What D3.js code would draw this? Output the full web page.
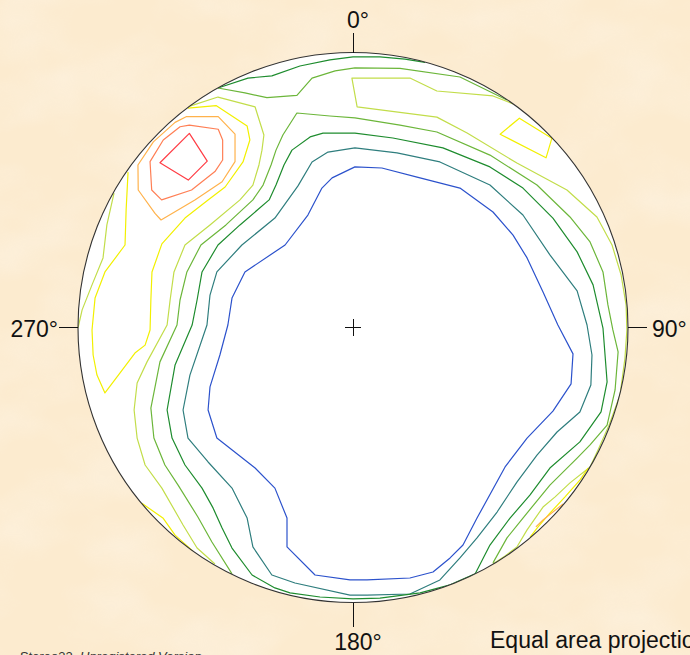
<!DOCTYPE html>
<html>
<head>
<meta charset="utf-8">
<script src="https://cdn.jsdelivr.net/npm/d3@7"></script>
<style>
  body { margin: 0; background: #fcebcf; overflow: hidden; }
  text { font-family: "Liberation Sans", Arial, sans-serif; fill: #111; }
</style>
</head>
<body>
<div id="stereonet"></div>
<script>
var blueLine = [[0.7,58.4],[10.5,58.0],[23.3,54.7],[38.9,50.7],[50.9,42.0],[58.2,33.6],[63.3,25.3],[69.1,12.9],[74.5,0.9],[80.0,-9.6],[79.3,-20.5],[72.7,-30.4],[63.3,-40.2],[55.3,-50.7],[45.1,-69.3],[40.0,-79.1],[35.3,-83.8],[29.1,-88.9],[20.7,-91.1],[5.1,-91.8],[-1.1,-91.8],[-13.8,-90.0],[-24.0,-79.8],[-24.0,-69.3],[-28.4,-58.4],[-35.6,-51.1],[-49.5,-40.2],[-52.7,-30.0],[-52.0,-21.6],[-48.4,-10.0],[-45.5,0.9],[-44.0,10.7],[-39.3,20.2],[-24.7,30.0],[-16.4,40.9],[-11.3,50.7],[-7.6,54.4]];
var tealLine = [[0.7,65.3],[16.0,63.5],[31.6,60.2],[49.8,51.8],[61.8,40.9],[71.6,26.4],[81.5,13.3],[85.1,0.9],[86.9,-10.0],[86.5,-20.9],[82.5,-30.7],[74.2,-38.0],[66.9,-46.4],[59.6,-56.2],[52.4,-67.1],[45.1,-76.5],[38.9,-83.8],[31.6,-91.8],[20.7,-96.9],[5.1,-97.3],[-1.1,-97.3],[-21.1,-92.9],[-29.5,-90.0],[-36.4,-79.8],[-38.5,-69.3],[-44.0,-58.4],[-52.7,-48.9],[-60.0,-40.2],[-61.8,-30.0],[-59.3,-17.3],[-53.1,0.9],[-52.0,11.8],[-49.5,20.2],[-40.4,30.0],[-28.4,39.8],[-20.0,51.5],[-14.9,60.2],[-9.1,63.8]];
var darkGreenLine = [[0.7,70.7],[14.5,68.9],[32.7,65.3],[49.8,58.4],[61.8,50.7],[72.7,39.8],[81.5,27.5],[87.3,15.5],[90.9,-0.2],[92.4,-19.8],[90.2,-30.7],[82.5,-41.6],[71.6,-51.1],[64.4,-60.9],[57.1,-69.3],[49.8,-79.1],[44.4,-89.6],[35.3,-93.6],[24.4,-96.5],[9.8,-98.4],[0,-98.7],[-12.0,-98.0],[-22.9,-96.5],[-28.4,-94.7],[-36.7,-90.0],[-44.0,-80.2],[-47.6,-72.9],[-50.9,-65.6],[-54.9,-58.4],[-61.1,-50.0],[-65.8,-40.2],[-67.6,-30.0],[-64.7,-13.6],[-58.5,0.9],[-56.7,10.0],[-54.9,20.2],[-49.1,30.0],[-41.1,37.3],[-30.5,46.4],[-28.0,51.8],[-25.1,59.1],[-22.2,64.5],[-15.6,69.3],[-10.9,70.7]];
var darkGreenRim = [[-49.1,87.1],[-38.2,90.7],[-29.5,91.5],[-19.3,95.1],[-8.4,97.3],[0,98.4],[9.8,98.4],[18.9,97.6],[26.2,96.4]];
var greenRim = [[-49.1,87.1],[-39.3,85.3],[-31.3,83.6],[-20.4,84.4],[-14.9,90.7],[-6.5,93.3],[0.7,94.4],[17.1,94.2],[38.9,91.1],[56.0,82.7]];
var greenLine = [[-44.0,-89.6],[-51.3,-78.0],[-56.4,-68.9],[-63.6,-57.3],[-68.4,-50.0],[-72.4,-40.2],[-73.5,-29.3],[-70.2,-12.5],[-64.0,0.9],[-62.9,10.0],[-60.4,20.2],[-55.3,30.0],[-46.2,37.3],[-36.4,46.4],[-32.7,51.8],[-29.8,59.1],[-28.0,64.5],[-25.5,70.0],[-20.4,78.0],[-8.4,76.9],[0.7,76.2],[17.1,73.6],[30.5,71.1],[49.8,62.7],[66.9,51.8],[78.9,40.2],[86.2,31.1],[90.9,20.2],[92.7,8.2],[94.5,-0.9],[96.4,-8.9],[95.3,-22.7],[92.4,-35.5],[86.2,-42.7],[81.5,-47.5],[71.6,-57.3],[61.8,-69.3],[56.0,-76.5],[50.9,-85.6]];
var yellowGreenLine = [[-59.3,80.5],[-49.1,83.8],[-35.6,80.2],[-32.4,70.0],[-33.1,64.5],[-34.2,59.1],[-36.4,51.8],[-41.1,46.4],[-52.0,37.3],[-61.1,30.0],[-65.1,20.2],[-66.5,10.0],[-67.6,0.9],[-74.9,-12.5],[-78.5,-20.2],[-79.6,-30.0],[-78.5,-40.2],[-75.6,-50.0],[-69.5,-58.4],[-61.8,-71.8],[-56.7,-80.2],[-50.2,-86.0]];
var yellowGreenEast = [[58.2,81.3],[50.9,84.2],[30.5,86.0],[20.7,90.7],[-0.4,90.7],[1.5,80.2],[30.5,76.5],[41.5,70.7],[59.6,59.8],[77.8,50.0],[88.7,40.2],[94.2,30.0],[97.5,19.1],[99.3,8.2],[99.6,-0.9],[98.9,-11.1],[97.1,-24.5],[93.1,-35.5],[89.1,-44.5],[86.2,-50.7],[78.9,-56.5],[73.5,-61.6],[69.1,-65.3],[63.3,-73.6],[59.6,-79.8],[55.3,-83.1],[50.9,-86.0]];
var yellowGreenWest = [[-86.9,48.9],[-89.5,37.3],[-90.9,25.3],[-94.9,15.5],[-98.5,6.4],[-100,-0.2]];
var yellowLine = [[-60.0,79.8],[-49.8,80.7],[-38.5,73.3],[-37.5,68.2],[-40.0,60.2],[-46.5,51.1],[-52.7,46.4],[-61.1,39.8],[-69.5,30.4],[-73.1,20.2],[-73.5,10.0],[-73.8,-0.9],[-75.6,-6.4],[-79.3,-9.3],[-84.7,-16.5],[-90.2,-23.8],[-93.1,-17.3],[-94.5,-10.0],[-94.9,-0.9],[-93.8,10.7],[-90.2,20.2],[-82.9,30.0],[-82.5,42.7],[-81.8,56.5]];
var yellowPatchNE = [[53.5,70.3],[60.5,76.1],[72.3,68.8],[70.2,61.7]];
var yellowRimSW = [[-76.8,-63.9],[-69.0,-69.4],[-64.7,-75.5],[-58.2,-81.3]];
var yellowRimSE = [[85.5,-51.1],[82.5,-55.5],[77.1,-61.6],[71.6,-67.5],[67.3,-72.5],[64.4,-76.2]];
var orangeLine = [[-64.7,74.6],[-60.5,76.7],[-49.0,76.7],[-42.9,70.3],[-42.9,60.3],[-47.6,53.0],[-57.5,46.4],[-69.8,39.1],[-72.0,41.5],[-78.1,50.0],[-78.2,59.1],[-72.6,67.5]];
var orangeRimSE = [[76.4,-64.2],[72.7,-67.1],[69.1,-70.0],[66.5,-72.5]];
var coralLine = [[-59.5,73.6],[-49.0,72.1],[-47.4,68.2],[-47.4,60.9],[-50.2,56.7],[-58.7,50.0],[-69.6,46.4],[-73.2,50.0],[-73.8,60.3],[-69.0,68.2],[-62.9,73.0]];
var redLine = [[-59.5,70.6],[-53.0,60.5],[-59.9,53.6],[-70.2,59.9]];

// contour levels, lowest density first
var levels = [1, 2, 3, 4, 5, 6, 7, 8, 9];
var contours = [
    { level: 1, closed: true, points: blueLine },
    { level: 2, closed: true, points: tealLine },
    { level: 3, closed: true, points: darkGreenLine },
    { level: 3, closed: false, points: darkGreenRim },
    { level: 4, closed: false, points: greenRim },
    { level: 4, closed: false, points: greenLine },
    { level: 5, closed: false, points: yellowGreenLine },
    { level: 5, closed: false, points: yellowGreenEast },
    { level: 5, closed: false, points: yellowGreenWest },
    { level: 6, closed: false, points: yellowLine },
    { level: 6, closed: true, points: yellowPatchNE },
    { level: 6, closed: false, points: yellowRimSW },
    { level: 6, closed: false, points: yellowRimSE },
    { level: 7, closed: true, points: orangeLine },
    { level: 7, closed: false, points: orangeRimSE },
    { level: 8, closed: true, points: coralLine },
    { level: 9, closed: true, points: redLine }
];

var azimuths = [0, 90, 180, 270];
var azimuthLabels = ["0°", "90°", "180°", "270°"];

// Layout
var width = 690, height = 655;
var cx = 353, cy = 327.5, radius = 275;

var svg = d3.select("#stereonet")
    .append("svg")
    .attr("width", width)
    .attr("height", height)
    .style("display", "block");

var defs = svg.append("defs");

// faint paper texture for the background
var paper = defs.append("filter")
    .attr("id", "paper")
    .attr("x", 0).attr("y", 0)
    .attr("width", "100%").attr("height", "100%");
paper.append("feTurbulence")
    .attr("type", "fractalNoise")
    .attr("baseFrequency", "0.012 0.018")
    .attr("numOctaves", 3)
    .attr("seed", 11);
paper.append("feColorMatrix")
    .attr("type", "matrix")
    .attr("values", "0 0 0 0 1  0 0 0 0 1  0 0 0 0 1  1.3 0 0 0 -0.5");

defs.append("clipPath")
    .attr("id", "netClip")
    .append("circle")
    .attr("cx", cx)
    .attr("cy", cy)
    .attr("r", radius);

svg.append("rect")
    .attr("width", width)
    .attr("height", height)
    .attr("fill", "#fcebcf");

svg.append("rect")
    .attr("width", width)
    .attr("height", height)
    .attr("filter", "url(#paper)")
    .attr("opacity", 0.35);

// Scales
var xScale = d3.scaleLinear().domain([-100, 100]).range([cx - radius, cx + radius]);
var yScale = d3.scaleLinear().domain([-100, 100]).range([cy + radius, cy - radius]);

var levelColor = d3.scaleOrdinal()
    .domain(levels)
    .range(["#2c52cc", "#2f7e7e", "#1e8c2e", "#6cb63a", "#c2dd4a", "#f2f000", "#ffb24c", "#ff7f55", "#ff3d45"]);

// Net face
svg.append("circle")
    .attr("cx", xScale(0))
    .attr("cy", yScale(0))
    .attr("r", xScale(100) - xScale(0))
    .attr("fill", "#ffffff");

var line = d3.line()
    .x(function (d) { return xScale(d[0]); })
    .y(function (d) { return yScale(d[1]); });

var closedLine = d3.line()
    .x(function (d) { return xScale(d[0]); })
    .y(function (d) { return yScale(d[1]); })
    .curve(d3.curveLinearClosed);

svg.append("g")
    .attr("clip-path", "url(#netClip)")
    .selectAll("path")
    .data(contours)
    .enter()
    .append("path")
    .attr("d", function (d) { return d.closed ? closedLine(d.points) : line(d.points); })
    .attr("fill", "none")
    .attr("stroke", function (d) { return levelColor(d.level); })
    .attr("stroke-width", 1.2)
    .attr("stroke-linejoin", "round");

// Primitive circle
svg.append("circle")
    .attr("cx", xScale(0))
    .attr("cy", yScale(0))
    .attr("r", xScale(100) - xScale(0))
    .attr("fill", "none")
    .attr("stroke", "#333")
    .attr("stroke-width", 1.1);

// centre cross
svg.append("path")
    .attr("d", "M" + xScale(-3) + "," + yScale(0) + "H" + xScale(3) +
               "M" + xScale(0) + "," + yScale(-3) + "V" + yScale(3))
    .attr("stroke", "#111")
    .attr("stroke-width", 1)
    .attr("shape-rendering", "crispEdges");

// Azimuth ticks
function polar(az, r) {
    var a = az * Math.PI / 180;
    return [r * Math.sin(a), r * Math.cos(a)];
}

svg.append("g")
    .selectAll("line")
    .data(azimuths)
    .enter()
    .append("line")
    .attr("x1", function (d) { return xScale(polar(d, 100)[0]); })
    .attr("y1", function (d) { return yScale(polar(d, 100)[1]); })
    .attr("x2", function (d) { return xScale(polar(d, d === 180 ? 109 : 107)[0]); })
    .attr("y2", function (d) { return yScale(polar(d, d === 180 ? 109 : 107)[1]); })
    .attr("stroke", "#111")
    .attr("stroke-width", 1)
    .attr("shape-rendering", "crispEdges");

// Azimuth labels
svg.append("g")
    .selectAll("text")
    .data(azimuths)
    .enter()
    .append("text")
    .attr("x", function (d) {
        var p = xScale(polar(d, 100)[0]);
        if (d === 90) return p + 24;
        if (d === 270) return p - 20;
        return p + 5;
    })
    .attr("y", function (d) {
        var p = yScale(polar(d, 100)[1]);
        if (d === 0) return p - 25;
        if (d === 180) return p + 47;
        return p + 9;
    })
    .attr("text-anchor", function (d) { return d === 90 ? "start" : d === 270 ? "end" : "middle"; })
    .style("font-size", "23px")
    .text(function (d, i) { return azimuthLabels[i]; });

// these two run off the page edge in the original as well
svg.append("text")
    .attr("x", 490)
    .attr("y", 648)
    .style("font-size", "23px")
    .text("Equal area projection");

var footer = svg.append("text")
    .attr("x", 20)
    .attr("y", 661)
    .style("font-size", "13px")
    .style("fill", "#333");
footer.append("tspan").text("Stereo32, ");
footer.append("tspan").style("font-style", "italic").text("Unregistered Version");
</script>
</body>
</html>
